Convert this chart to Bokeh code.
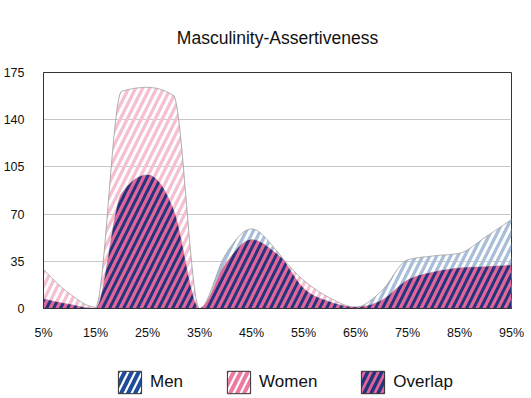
import numpy as np
from bokeh.plotting import figure
from bokeh.layouts import column
from bokeh.models import Range1d, FixedTicker, Legend, LegendItem, ColumnDataSource
from bokeh.embed import file_html
from bokeh.resources import INLINE

title_text = "Masculinity-Assertiveness"
pct = [5, 10, 15, 20, 25, 30, 35, 40, 45, 50, 55, 60, 65, 70, 75, 80, 85, 90, 95]
men = [7, 3, 0, 85, 99, 73, 0, 40, 59, 42, 15, 5, 1, 13, 36, 39, 41, 53, 66]
women = [29, 11, 1, 161, 164, 158, 0, 33, 51, 40, 21, 8, 1, 6, 21, 27, 30, 31, 32]
x_ticks = [5, 15, 25, 35, 45, 55, 65, 75, 85, 95]
x_tick_labels = ["5%", "15%", "25%", "35%", "45%", "55%", "65%", "75%", "85%", "95%"]
y_ticks = [0, 35, 70, 105, 140, 175]
grid_ticks = [35, 70, 105, 140]
series_names = ["Men", "Women", "Overlap"]

FONT = "Liberation Sans"


def monotone_curve(xs, ys, n=30):
    """Monotone cubic (d3 curveMonotoneX style) rendering of the data."""
    xs = np.asarray(xs, float)
    ys = np.asarray(ys, float)
    h = np.diff(xs)
    s = np.diff(ys) / h
    m = len(xs)
    t = np.zeros(m)
    for i in range(1, m - 1):
        s0, s1 = s[i - 1], s[i]
        p_ = (s0 * h[i] + s1 * h[i - 1]) / (h[i - 1] + h[i])
        t[i] = (np.sign(s0) + np.sign(s1)) * min(abs(s0), abs(s1), 0.5 * abs(p_))
    t[0] = (3 * s[0] - t[1]) / 2
    t[-1] = (3 * s[-1] - t[-2]) / 2
    if np.sign(t[0]) != np.sign(s[0]):
        t[0] = 0
    if np.sign(t[-1]) != np.sign(s[-1]):
        t[-1] = 0
    ox, oy = [], []
    for i in range(m - 1):
        u = np.linspace(0, 1, n, endpoint=(i == m - 2))
        h00 = 2 * u**3 - 3 * u**2 + 1
        h10 = u**3 - 2 * u**2 + u
        h01 = -2 * u**3 + 3 * u**2
        h11 = u**3 - u**2
        ox.extend(xs[i] + u * h[i])
        oy.extend(h00 * ys[i] + h10 * h[i] * t[i] + h01 * ys[i + 1] + h11 * h[i] * t[i + 1])
    return np.array(ox), np.clip(np.array(oy), 0, None)


xm, ym = monotone_curve(pct, men)
xw, yw = monotone_curve(pct, women)
yo = np.minimum(ym, yw)

src = ColumnDataSource(dict(x=xm, men=ym, women=yw, overlap=yo, zero=np.zeros_like(xm)))

p = figure(width=531, height=350, x_range=Range1d(5, 95), y_range=Range1d(0, 175),
           output_backend="svg", toolbar_location=None,
           min_border_left=41, min_border_right=20, min_border_top=72, min_border_bottom=42,
           title=title_text)
p.background_fill_color = "white"
p.border_fill_color = "white"
p.outline_line_color = "#333333"
p.outline_line_width = 1

p.title.text_font = FONT
p.title.text_font_size = "17.5px"
p.title.text_font_style = "normal"
p.title.align = "center"
p.title.text_color = "#111111"
p.title.standoff = 50

for ax in (p.xaxis, p.yaxis):
    ax.major_tick_line_color = None
    ax.minor_tick_line_color = None
    ax.major_tick_out = 0
    ax.major_tick_in = 0
    ax.minor_tick_out = 0
    ax.axis_line_color = "#333333"
    ax.major_label_text_font = FONT
    ax.major_label_text_font_size = "12.5px"
    ax.major_label_text_color = "#111111"

p.xaxis.ticker = FixedTicker(ticks=x_ticks)
p.xaxis.major_label_overrides = {v: l for v, l in zip(x_ticks, x_tick_labels)}
p.xaxis.major_label_standoff = 17
p.yaxis.ticker = FixedTicker(ticks=y_ticks)
p.yaxis.major_label_standoff = 19

p.xgrid.visible = False
p.ygrid.ticker = FixedTicker(ticks=grid_ticks)
p.ygrid.grid_line_color = "#c8c8c8"
p.ygrid.grid_line_width = 1

HATCH = "/"

# Men and Women areas (light hatching)
p.varea(x="x", y1="zero", y2="men", source=src, fill_alpha=0,
        hatch_pattern=HATCH, hatch_color="#a8bed9", hatch_scale=14, hatch_weight=3.3)
p.varea(x="x", y1="zero", y2="women", source=src, fill_alpha=0,
        hatch_pattern=HATCH, hatch_color="#f5c0d2", hatch_scale=14, hatch_weight=3.3)
p.line(x="x", y="men", source=src, line_color="#9a9a9a", line_width=0.8)
p.line(x="x", y="women", source=src, line_color="#9a9a9a", line_width=0.8)
# Overlap area
p.varea(x="x", y1="zero", y2="overlap", source=src, fill_color="#e0669a", fill_alpha=1,
        hatch_pattern=HATCH, hatch_color="#24347c", hatch_scale=14, hatch_weight=3.0)

# Legend strip
lf = figure(width=531, height=48, x_range=Range1d(0, 1), y_range=Range1d(0, 1),
            output_backend="svg", toolbar_location=None, x_axis_type=None, y_axis_type=None,
            min_border_left=0, min_border_right=0, min_border_top=0, min_border_bottom=0)
lf.outline_line_color = None
lf.background_fill_color = "white"
lf.border_fill_color = "white"

lm = lf.quad(left=[2], right=[3], top=[3], bottom=[2],
             fill_color="white", line_color="#333333", line_width=1,
             hatch_pattern=HATCH, hatch_color="#1f4c98", hatch_scale=14, hatch_weight=4)
lw = lf.quad(left=[2], right=[3], top=[3], bottom=[2],
             fill_color="white", line_color="#333333", line_width=1,
             hatch_pattern=HATCH, hatch_color="#ec7aa2", hatch_scale=14, hatch_weight=4)
lo = lf.quad(left=[2], right=[3], top=[3], bottom=[2],
             fill_color="#e0669a", line_color="#333333", line_width=1,
             hatch_pattern=HATCH, hatch_color="#24347c", hatch_scale=14, hatch_weight=3.5)

legend = Legend(items=[LegendItem(label=series_names[0], renderers=[lm]),
                       LegendItem(label=series_names[1], renderers=[lw]),
                       LegendItem(label=series_names[2], renderers=[lo])],
                orientation="horizontal", location=(72, 2),
                glyph_width=29, glyph_height=28, label_standoff=6, spacing=41,
                label_text_font=FONT, label_text_font_size="17px",
                label_text_color="#111111", label_height=28,
                border_line_color=None, background_fill_alpha=0, padding=0, margin=0)
lf.add_layout(legend)

layout = column(p, lf, spacing=0)
open("out.html", "w").write(file_html(layout, INLINE))
